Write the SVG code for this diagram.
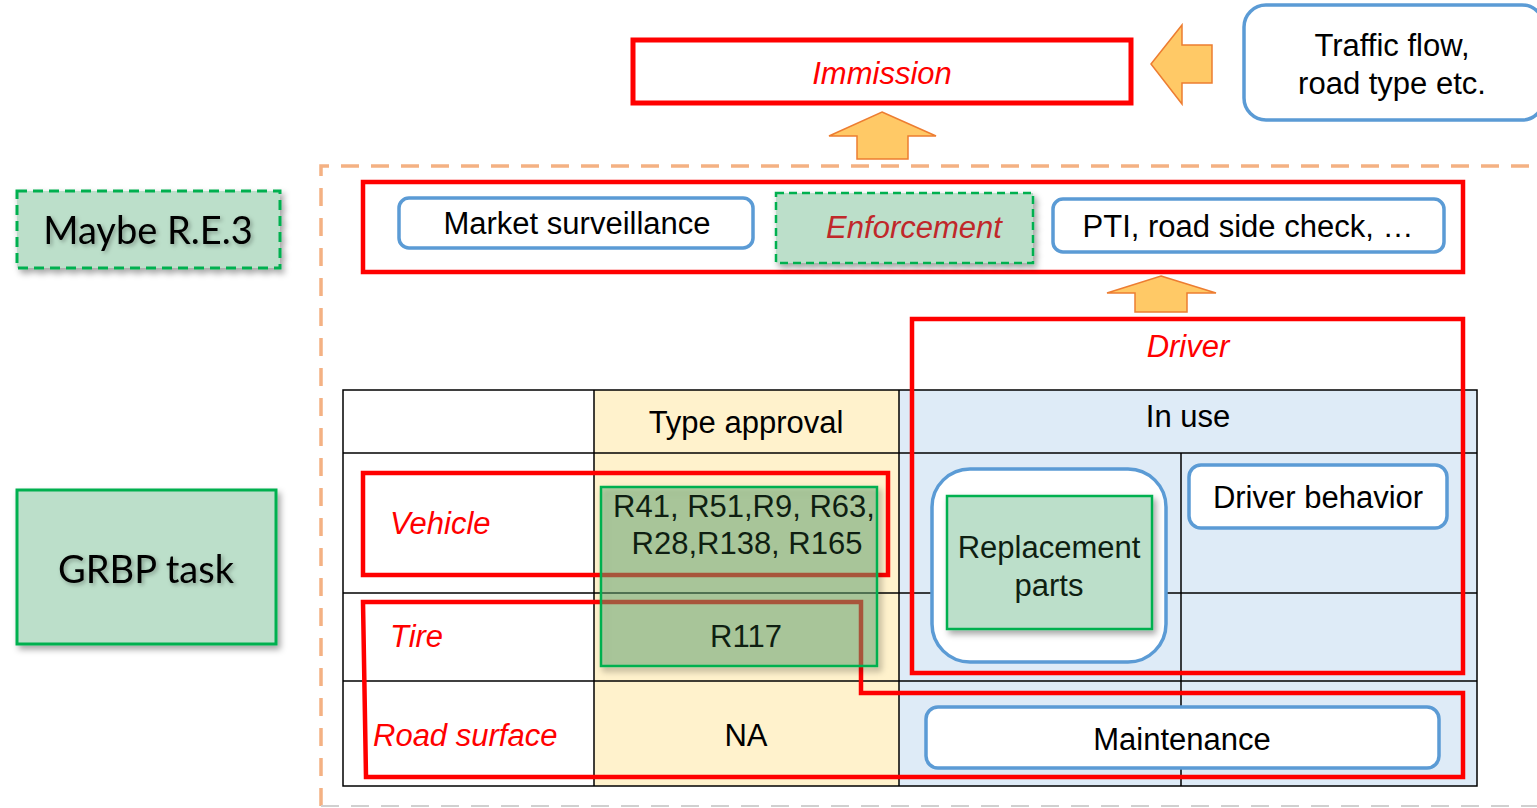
<svg xmlns="http://www.w3.org/2000/svg" width="1537" height="808" viewBox="0 0 1537 808">
<style>
  text { font-family: "Liberation Sans", Arial, sans-serif; font-size: 31px; fill: #000; }
  .c { text-anchor: middle; }
  .red { fill: #FF0000; font-style: italic; }
  .dred { fill: #C0282A; font-style: italic; }
  .cal { font-family: Lato, "Open Sans", sans-serif; font-size: 38px; }
  .redbox { fill: none; stroke: #FF0000; stroke-width: 4.5; }
  .bluebox { fill: #FFFFFF; stroke: #5B9BD5; stroke-width: 3.5; }
  .greenfill { fill: #BCDFCA; stroke: #00B050; stroke-width: 2.5; }
  .arrow { fill: #FFC966; stroke: #ED7D31; stroke-width: 1.5; stroke-linejoin: miter; }
  .grid { stroke: #000; stroke-width: 1.5; fill: none; }
  .reg { fill: #0F1F12; }
</style>
<defs>
  <filter id="sh" x="-10%" y="-10%" width="130%" height="140%">
    <feDropShadow dx="3" dy="4" stdDeviation="3" flood-color="#000" flood-opacity="0.35"/>
  </filter>
  <filter id="tsh" x="-10%" y="-20%" width="130%" height="150%">
    <feDropShadow dx="2" dy="2" stdDeviation="2" flood-color="#000" flood-opacity="0.3"/>
  </filter>
</defs>
<rect width="1537" height="808" fill="#FFFFFF"/>

<!-- outer dashed scope -->
<g id="scope">
  <path d="M321,806 V166 H1537" fill="none" stroke="#F4B183" stroke-width="3.5" stroke-dasharray="18 12"/>
  <line x1="321" y1="806" x2="1537" y2="806" stroke="#D0D0D0" stroke-width="2" stroke-dasharray="18 12"/>
</g>

<!-- table -->
<g id="table">
  <rect x="343" y="390" width="251" height="396" fill="#FFFFFF"/>
  <rect x="594" y="390" width="305" height="396" fill="#FFF2CC"/>
  <rect x="899" y="390" width="578" height="396" fill="#DEEBF7"/>
  <line class="grid" x1="343" y1="453" x2="1477" y2="453"/>
  <line class="grid" x1="343" y1="593" x2="1477" y2="593"/>
  <line class="grid" x1="343" y1="681" x2="1477" y2="681" stroke-width="2"/>
  <line class="grid" x1="594" y1="390" x2="594" y2="786"/>
  <line class="grid" x1="899" y1="390" x2="899" y2="786"/>
  <line class="grid" x1="1181" y1="453" x2="1181" y2="786"/>
  <rect class="grid" x="343" y="390" width="1134" height="396" stroke-width="2"/>
  <text class="c" x="746" y="433">Type approval</text>
  <text class="c" x="1188" y="427">In use</text>
  <text class="c" x="746" y="746">NA</text>
</g>

<g id="immission">
  <rect x="633" y="40" width="498" height="63" fill="#FFFFFF" stroke="#FF0000" stroke-width="5"/>
  <text class="c red" x="882" y="84">Immission</text>
</g>

<g id="traffic">
  <rect x="1244" y="5" width="300" height="115" rx="22" class="bluebox"/>
  <text class="c" x="1392" y="56">Traffic flow,</text>
  <text class="c" x="1392" y="94">road type etc.</text>
</g>

<g id="maybe">
  <rect x="17" y="191" width="263" height="77" fill="#BCDFCA" stroke="#00B050" stroke-width="3" stroke-dasharray="10 6" filter="url(#sh)"/>
  <text class="c cal" x="148" y="244" filter="url(#tsh)">Maybe R.E.3</text>
</g>

<g id="grbp">
  <rect x="17" y="490" width="259" height="154" fill="#BCDFCA" stroke="#00B050" stroke-width="3" filter="url(#sh)"/>
  <text class="c cal" x="146" y="583" filter="url(#tsh)">GRBP task</text>
</g>

<g id="enforcement-group">
  <rect class="redbox" x="363" y="182" width="1100" height="90"/>
</g>

<g id="market">
  <rect x="399" y="198" width="354" height="50" rx="10" class="bluebox"/>
  <text class="c" x="577" y="234" font-size="32">Market surveillance</text>
</g>

<g id="enforcement">
  <rect x="776" y="193" width="257" height="70" fill="#BCDFCA" stroke="#00B050" stroke-width="2.5" stroke-dasharray="8 5" filter="url(#sh)"/>
  <text class="c dred" x="914" y="238">Enforcement</text>
</g>

<g id="pti">
  <rect x="1053" y="199" width="391" height="53" rx="10" class="bluebox"/>
  <text class="c" x="1248" y="237">PTI, road side check, …</text>
</g>

<g id="driver">
  <rect class="redbox" x="912" y="319" width="551" height="354"/>
  <text class="c red" x="1188" y="357">Driver</text>
</g>

<g id="replacement">
  <rect x="932" y="469" width="234" height="193" rx="38" class="bluebox"/>
  <rect x="947" y="496" width="205" height="133" class="greenfill" filter="url(#sh)"/>
  <text class="c reg" x="1049" y="558">Replacement</text>
  <text class="c reg" x="1049" y="596">parts</text>
</g>

<g id="driver-behavior">
  <rect x="1189" y="465" width="258" height="63" rx="12" class="bluebox"/>
  <text class="c" x="1318" y="508">Driver behavior</text>
</g>

<g id="maintenance">
  <rect x="926" y="707" width="513" height="61" rx="12" class="bluebox"/>
  <text class="c" x="1182" y="750">Maintenance</text>
</g>

<g id="vehicle">
  <rect class="redbox" x="363" y="473" width="525" height="102"/>
  <text class="red" x="390" y="534">Vehicle</text>
</g>

<g id="tire-road">
  <path class="redbox" d="M363,602 H861 V693 H1463 V777 H366 Z"/>
  <text class="red" x="390" y="647">Tire</text>
  <text class="red" x="373" y="746">Road surface</text>
</g>

<g id="regulations">
  <rect x="601" y="487" width="276" height="179" fill="rgb(100,170,120)" fill-opacity="0.45" stroke="#00B050" stroke-width="2.5" filter="url(#sh)"/>
  <text class="c reg" x="744" y="517">R41, R51,R9, R63,</text>
  <text class="c reg" x="747" y="554">R28,R138, R165</text>
  <text class="c reg" x="746" y="647">R117</text>
</g>

<!-- connectors: block arrows -->
<g id="connectors">
  <polygon class="arrow" points="882,112 936,136 908,136 908,159 857,159 857,136 829,136"/>
  <polygon class="arrow" points="1161,276 1216,293 1187,293 1187,312 1135,312 1135,293 1107,293"/>
  <polygon class="arrow" points="1151,64 1182,25 1182,45 1212,45 1212,83 1182,83 1182,104"/>
</g>
</svg>
